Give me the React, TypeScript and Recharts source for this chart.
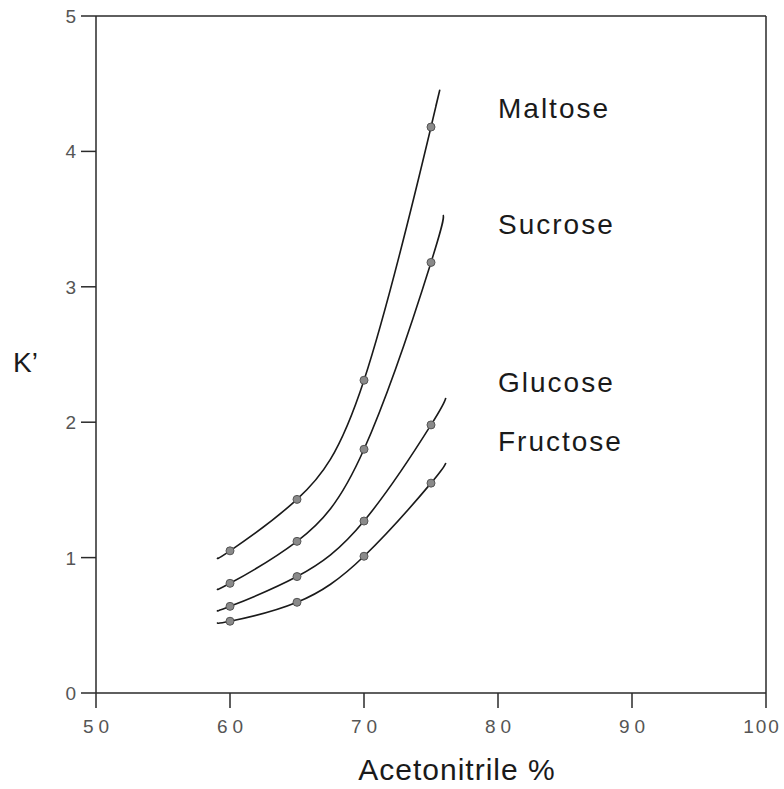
import {
  ComposedChart,
  Line,
  Scatter,
  XAxis,
  YAxis,
  ReferenceLine,
  ReferenceDot,
  Label,
} from "recharts"

// acetonitrile % where K' was measured
const acetonitrile = [60, 65, 70, 75]

const maltose = [1.05, 1.43, 2.31, 4.18]
const sucrose = [0.81, 1.12, 1.8, 3.18]
const glucose = [0.64, 0.86, 1.27, 1.98]
const fructose = [0.53, 0.67, 1.01, 1.55]

// drawn fitted curves run a little past the measured points
const curveStartX = [59.1, 59.1, 59.1, 59.1]
const curveStartY = [1.0, 0.77, 0.61, 0.52]
const curveEndX = [75.35, 75.9, 76.1, 76.1]
const curveEndY = [4.33, 3.53, 2.18, 1.7]

const sugars = ["Maltose", "Sucrose", "Glucose", "Fructose"]
const labelY = [4.32, 3.46, 2.3, 1.86]
const labelX = 80

const xTicks = [50, 60, 70, 80, 90, 100]
const yTicks = [0, 1, 2, 3, 4, 5]

const series = [maltose, sucrose, glucose, fructose]

const FONT = "'Liberation Sans', Arial, sans-serif"
const INK = "#2a2a2a"

function XTick({ x, y, payload }: any) {
  const spacing = payload.value === 100 ? 2 : 5
  const shift = payload.value === 100 ? -4 : spacing / 2
  return (
    <text
      x={x + shift}
      y={y + 23}
      textAnchor="middle"
      fill="#555"
      fontSize={19}
      fontFamily={FONT}
      letterSpacing={spacing}
    >
      {payload.value}
    </text>
  )
}

function YTick({ x, y, payload }: any) {
  return (
    <text x={x - 3} y={y + 7} textAnchor="end" fill="#555" fontSize={19} fontFamily={FONT}>
      {payload.value}
    </text>
  )
}

export default function App() {
  const curves = series.map((vals, i) => [
    { x: curveStartX[i], y: curveStartY[i] },
    ...acetonitrile.map((a, j) => ({ x: a, y: vals[j] })),
    { x: curveEndX[i], y: curveEndY[i] },
  ])
  const points = series.map((vals) => acetonitrile.map((a, j) => ({ x: a, y: vals[j] })))

  return (
    <div style={{ position: "absolute", left: 0, top: 0, background: "#fff" }}>
      <ComposedChart width={784} height={789} margin={{ top: 16, right: 18, left: 0, bottom: 0 }}>
        <XAxis
          type="number"
          dataKey="x"
          domain={[50, 100]}
          ticks={xTicks}
          allowDataOverflow
          height={96}
          tickSize={15}
          tick={<XTick />}
          axisLine={{ stroke: INK, strokeWidth: 1.5 }}
          tickLine={{ stroke: INK, strokeWidth: 1.5 }}
        >
          <Label
            value="Acetonitrile %"
            position="insideBottom"
            offset={9}
            dx={26}
            fill="#1a1a1a"
            fontSize={30}
            letterSpacing={1}
            fontFamily={FONT}
          />
        </XAxis>
        <YAxis
          type="number"
          dataKey="y"
          domain={[0, 5]}
          ticks={yTicks}
          allowDataOverflow
          width={96}
          tickSize={15}
          tick={<YTick />}
          axisLine={{ stroke: INK, strokeWidth: 1.5 }}
          tickLine={{ stroke: INK, strokeWidth: 1.5 }}
        >
          <Label
            value="K’"
            position="insideLeft"
            offset={13}
            dy={8}
            fill="#1a1a1a"
            fontSize={28}
            fontFamily={FONT}
          />
        </YAxis>
        <ReferenceLine y={5} stroke={INK} strokeWidth={1.5} />
        <ReferenceLine x={100} stroke={INK} strokeWidth={1.5} />
        {curves.map((c, i) => (
          <Line
            key={sugars[i]}
            data={c}
            dataKey="y"
            type="natural"
            stroke="#1a1a1a"
            strokeWidth={1.6}
            dot={false}
            isAnimationActive={false}
          />
        ))}
        {points.map((p, i) => (
          <Scatter
            key={"pts" + sugars[i]}
            data={p}
            dataKey="y"
            fill="#8a8a8a"
            shape={(props: any) => (
              <circle cx={props.cx} cy={props.cy} r={4} fill="#8a8a8a" stroke="#555" strokeWidth={1} />
            )}
            isAnimationActive={false}
          />
        ))}
        {sugars.map((s, i) => (
          <ReferenceDot key={"lbl" + s} x={labelX} y={labelY[i]} r={0} fill="none" stroke="none">
            <Label
              value={s}
              position="right"
              offset={0}
              fill="#1a1a1a"
              fontSize={28}
              letterSpacing={2}
              fontFamily={FONT}
            />
          </ReferenceDot>
        ))}
      </ComposedChart>
    </div>
  )
}
